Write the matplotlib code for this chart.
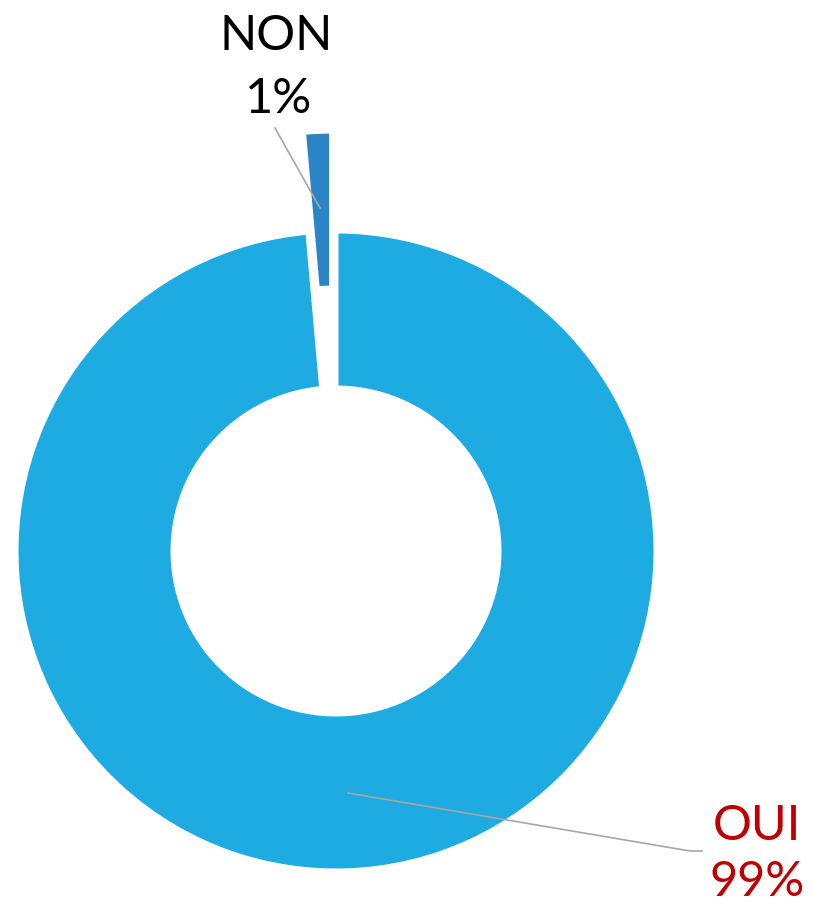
import matplotlib
matplotlib.use("Agg")
import matplotlib.pyplot as plt

categories = ["OUI", "NON"]
values = [98.6, 1.4]
pct_labels = ["99%", "1%"]
colors = ["#1EABE2", "#2A84C6"]
label_colors = ["#C00000", "#000000"]

W, H = 813, 906
fig = plt.figure(figsize=(W / 100, H / 100), dpi=100)
ax = fig.add_axes([0, 0, 1, 1])

cx, cy = 336, H - 551
R = 320
ax.pie(values, colors=colors, startangle=90, counterclock=False,
       center=(cx, cy), radius=R, explode=[0, 100],
       wedgeprops=dict(width=157, edgecolor="white", linewidth=3.6),
       frame=True)
ax.set_xlim(0, W)
ax.set_ylim(0, H)
ax.set_aspect("equal")
ax.axis("off")

font = "Lato"
fs = 35
# NON label
ax.text(276, H - 50, categories[1], ha="center", va="baseline",
        fontsize=fs, color=label_colors[1], family=font)
ax.text(279, H - 113, pct_labels[1], ha="center", va="baseline",
        fontsize=fs, color=label_colors[1], family=font)
ax.plot([275, 320], [H - 128, H - 208], color="#A6A6A6", lw=1.2)

# OUI label
ax.text(757, H - 840, categories[0], ha="center", va="baseline",
        fontsize=fs, color=label_colors[0], family=font)
ax.text(757, H - 896, pct_labels[0], ha="center", va="baseline",
        fontsize=fs, color=label_colors[0], family=font)
ax.plot([348, 690, 702], [H - 793, H - 851, H - 851], color="#A6A6A6", lw=1.2)

fig.savefig("out.png", dpi=100)
